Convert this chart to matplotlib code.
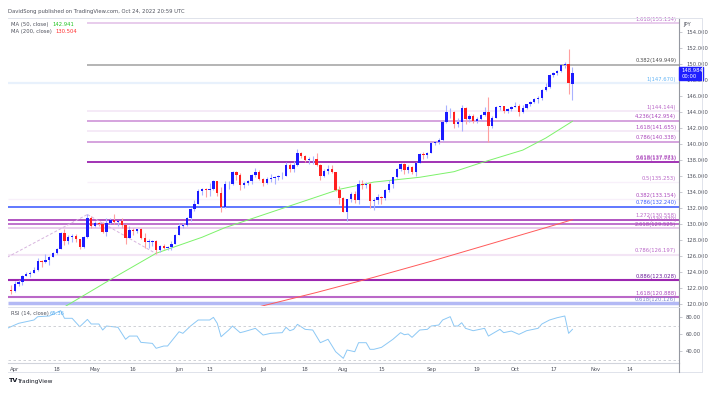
import numpy as np
import matplotlib
matplotlib.use("Agg")
import matplotlib.pyplot as plt
import matplotlib.transforms as mtransforms
from matplotlib.lines import Line2D
from matplotlib.patches import Rectangle


# 1. Daily USD/JPY candles, Mar 31 - Oct 24 2022 (one row per month)
opens = [
    121.85, 121.70, 122.50, 122.80, 123.60, 123.80, 123.95, 124.35, 125.40, 125.35, 125.60, 125.90, 126.40, 126.95, 128.90, 127.90, 128.40, 128.50, 128.15, 127.20, 128.40, 130.80,
    129.75, 130.15, 130.10, 129.10, 130.20, 130.55, 130.30, 130.40, 129.95, 128.35, 129.25, 129.15, 129.40, 128.25, 127.80, 127.85, 127.90, 126.85, 127.30, 127.10, 127.15, 127.60,
    128.70, 129.80, 129.90, 130.85, 131.90, 132.60, 134.20, 134.40, 134.35, 134.40, 135.45, 133.95, 132.20, 135.00, 135.05, 136.60, 136.20, 134.95, 135.20, 135.45, 136.15, 136.60,
    135.70, 135.20, 135.70, 135.85, 135.95, 136.00, 136.10, 137.40, 136.90, 137.40, 138.95, 138.55, 138.10, 138.15, 138.20, 137.40, 136.10, 136.65, 136.95, 136.55, 134.30,
    133.25, 131.60, 133.15, 133.85, 133.00, 135.00, 134.95, 135.10, 132.90, 133.00, 133.45, 133.30, 134.25, 135.10, 135.90, 136.90, 137.50, 136.75, 137.15, 136.60, 137.70, 138.75, 138.70,
    138.95, 140.20, 140.25, 140.55, 142.80, 144.00, 144.10, 142.60, 142.85, 144.55, 143.20, 143.50, 142.95, 143.20, 143.70, 144.10, 142.35, 143.35, 144.70, 144.75, 144.15, 144.45,
    144.70, 144.80, 144.05, 144.60, 145.05, 145.30, 145.70, 145.75, 146.85, 147.20, 148.70, 148.95, 149.20, 149.90, 150.10, 147.50,
]
highs = [
    122.43, 122.98, 123.05, 123.65, 124.05, 124.15, 124.70, 125.75, 125.60, 126.30, 126.00, 126.60, 127.05, 129.05, 129.40, 128.70, 128.85, 128.75, 128.20, 128.60, 131.25, 131.05,
    130.45, 130.35, 130.35, 130.80, 130.85, 131.35, 130.45, 130.80, 130.10, 129.75, 129.50, 129.45, 129.50, 128.95, 128.20, 128.10, 128.00, 127.45, 127.60, 127.35, 127.90, 128.80,
    130.20, 130.20, 130.95, 132.00, 133.00, 134.45, 134.55, 134.60, 135.20, 135.60, 135.45, 134.70, 135.45, 135.45, 136.70, 136.70, 136.40, 135.40, 135.60, 136.35, 137.00, 136.85,
    135.75, 135.95, 136.35, 136.05, 136.15, 136.55, 137.75, 137.65, 137.90, 139.40, 139.10, 138.70, 138.40, 138.50, 138.90, 137.55, 136.90, 137.45, 137.45, 136.60, 134.80,
    133.40, 133.20, 134.05, 134.15, 135.50, 135.55, 135.35, 135.35, 133.25, 133.80, 133.60, 134.40, 135.50, 135.95, 137.00, 137.70, 137.65, 137.40, 137.25, 137.75, 138.95, 139.00, 139.05,
    140.25, 140.40, 140.80, 143.05, 144.99, 144.55, 144.20, 143.25, 144.95, 144.70, 143.75, 143.75, 143.40, 143.85, 144.70, 145.90, 143.50, 144.80, 144.85, 144.80, 144.60, 144.85,
    145.30, 145.00, 144.90, 145.10, 145.45, 145.75, 146.00, 146.95, 147.65, 148.85, 149.10, 149.35, 149.95, 150.30, 151.95, 149.70,
]
lows = [
    121.28, 121.60, 122.25, 122.40, 123.55, 123.45, 123.90, 124.20, 124.70, 125.15, 124.95, 125.90, 126.30, 126.90, 127.45, 127.50, 127.80, 127.85, 126.95, 127.00, 128.30, 129.50,
    129.65, 129.80, 128.95, 128.60, 130.00, 130.10, 129.75, 129.50, 127.50, 128.30, 128.65, 128.90, 128.15, 127.05, 127.05, 127.30, 126.35, 126.60, 126.90, 126.85, 126.85, 127.50,
    128.65, 129.50, 129.75, 130.40, 131.70, 132.60, 133.65, 133.40, 133.60, 134.25, 133.50, 131.50, 132.10, 134.45, 134.90, 135.60, 134.30, 134.50, 134.90, 135.05, 135.90, 135.55,
    134.75, 135.10, 135.35, 135.05, 135.55, 135.65, 136.00, 136.60, 136.50, 137.30, 138.25, 137.75, 137.55, 137.60, 137.25, 135.60, 135.95, 136.35, 136.40, 134.20, 132.50,
    131.55, 130.40, 132.85, 132.70, 132.50, 134.40, 134.60, 132.05, 131.75, 132.55, 132.55, 133.00, 134.05, 134.60, 135.80, 136.70, 136.25, 136.40, 136.30, 136.10, 137.65, 138.20, 138.25,
    138.90, 139.90, 140.05, 140.40, 142.65, 143.35, 142.10, 142.20, 141.65, 142.55, 142.85, 142.65, 142.70, 143.05, 143.55, 140.35, 142.00, 143.30, 144.35, 143.95, 143.90, 144.20,
    144.70, 143.55, 143.95, 144.40, 144.85, 145.20, 145.20, 145.60, 146.65, 147.05, 148.40, 148.70, 149.00, 149.60, 146.25, 145.50,
]
closes = [
    121.70, 122.50, 122.80, 123.60, 123.80, 123.95, 124.35, 125.40, 125.35, 125.60, 125.90, 126.40, 126.95, 128.90, 127.90, 128.40, 128.50, 128.15, 127.20, 128.40, 130.80, 129.75,
    130.15, 130.10, 129.10, 130.20, 130.55, 130.30, 130.40, 129.95, 128.35, 129.25, 129.15, 129.40, 128.25, 127.80, 127.85, 127.90, 126.85, 127.30, 127.10, 127.15, 127.60, 128.70,
    129.80, 129.90, 130.85, 131.90, 132.60, 134.20, 134.40, 134.35, 134.40, 135.45, 133.95, 132.20, 135.00, 135.05, 136.60, 136.20, 134.95, 135.20, 135.45, 136.15, 136.60, 135.70,
    135.20, 135.70, 135.85, 135.95, 136.00, 136.10, 137.40, 136.90, 137.40, 138.95, 138.55, 138.10, 138.15, 138.20, 137.40, 136.10, 136.65, 136.95, 136.55, 134.30, 133.25,
    131.60, 133.15, 133.85, 133.00, 135.00, 134.95, 135.10, 132.90, 133.00, 133.45, 133.30, 134.25, 135.10, 135.90, 136.90, 137.50, 136.75, 137.15, 136.60, 137.70, 138.75, 138.70, 138.95,
    140.20, 140.25, 140.55, 142.80, 144.00, 144.10, 142.60, 142.85, 144.55, 143.20, 143.50, 142.95, 143.20, 143.70, 144.10, 142.35, 143.35, 144.70, 144.75, 144.15, 144.45, 144.70,
    144.80, 144.05, 144.60, 145.05, 145.30, 145.70, 145.75, 146.85, 147.20, 148.70, 148.95, 149.20, 149.90, 150.10, 147.65, 148.98,
]

# 2. Moving averages (bar index, value)
ma50_idx = [12, 14, 26, 38, 50, 56, 66, 76, 86, 95, 107, 116, 123, 134, 140, 147]
ma50_val = [119.2, 119.7, 123.1, 126.4, 128.4, 129.6, 131.2, 132.8, 134.4, 135.3, 135.9, 136.6, 137.7, 139.3, 140.8, 142.9]
ma200_idx = [64, 80, 95, 110, 125, 140, 147]
ma200_val = [119.6, 121.5, 123.4, 125.4, 127.5, 129.6, 130.6]

# 3. RSI(14)
rsi_idx = [-1, 2, 6, 7, 10, 13, 14, 16, 18, 20, 21, 23, 24, 25, 28, 30, 31, 33, 34, 37, 38, 40, 41, 44, 45, 47, 49, 52, 53, 54,
           55, 57, 58, 60, 61, 64, 66, 68, 71, 72, 73, 74, 75, 77, 79, 81, 83, 85, 87, 88, 90, 91, 93, 94, 95, 97, 100, 102, 103, 104,
           105, 107, 109, 110, 112, 113, 115, 116, 117, 118, 119, 121, 124, 125, 128, 129, 131, 133, 135, 138, 139, 141, 143, 145, 146, 147]
rsi_val = [66.7, 72.6, 76.5, 80.4, 81.2, 87.5, 78.5, 78.5, 68.6, 77.2, 71.8, 71.8, 64.7, 69.4, 67.9, 53.8, 57.6, 57.6, 50.2, 49.0,
           43.2, 45.9, 45.9, 62.7, 60.8, 69.4, 76.5, 76.5, 79.6, 72.6, 56.8, 64.7, 69.4, 61.6, 62.7, 66.7, 58.8, 60.8, 61.6, 67.9,
           63.9, 65.5, 71.4, 65.5, 64.7, 49.8, 53.8, 39.2, 31.4, 41.2, 39.2, 49.8, 49.8, 42.0, 42.0, 44.3, 53.8, 61.6, 59.2, 60.0,
           56.1, 64.7, 65.5, 69.4, 70.6, 76.5, 80.4, 69.4, 69.4, 73.3, 66.7, 63.9, 66.7, 57.6, 65.5, 61.6, 63.5, 59.6, 63.9, 66.7,
           71.8, 76.5, 79.2, 81.2, 60.8, 65.5]

# 4. Fibonacci levels drawn on the chart
fib_prices = [155.134, 149.949, 147.670, 144.144, 142.954, 141.655, 140.338, 137.871, 137.783, 135.253,
              133.154, 132.240, 130.558, 130.079, 129.525, 126.197, 123.028, 120.888, 120.126]
fib_labels = ["1.618(155.134)", "0.382(149.949)", "1(147.670)", "1(144.144)", "4.236(142.954)", "1.618(141.655)",
              "0.786(140.338)", "0.618(137.871)", "2.618(137.783)", "0.5(135.253)", "0.382(133.154)", "0.786(132.240)",
              "1.272(130.558)", "1(130.079)", "2.618(129.525)", "0.786(126.197)", "0.886(123.028)", "1.618(120.888)",
              "0.618(120.126)"]
# dashed trend legs of the fib tool (bar index, price)
leg_idx = [[-1, 20], [20, 38]]
leg_val = [[125.9, 131.25], [131.25, 126.35]]

# 5. Time axis
tick_idx = [1, 12, 22, 32, 44, 52, 66, 77, 87, 97, 110, 122, 132, 142, 153, 162]
tick_txt = ["Apr", "18", "May", "16", "Jun", "13", "Jul", "18", "Aug", "15", "Sep", "19", "Oct", "17", "Nov", "14"]

# styles for fib lines
fib_line_col = ["#E1BEE7", "#A0A0A0", "#E8F1FC", "#F5EAF7", "#CE93D8", "#F5EAF7", "#CE93D8", "#AB47BC", "#9C27B0", "#F8F0FA",
                "#F8F0FA", "#536DFE", "#AB47BC", "#BA68C8", "#E1BEE7", "#F3E5F5", "#9C27B0", "#BA68C8", "#B3B9F5"]
fib_line_w = [1.1, 1.1, 1.6, 1.4, 1.2, 1.4, 1.2, 1.1, 1.1, 1.0, 1.0, 1.3, 1.3, 1.3, 1.1, 1.5, 1.5, 1.5, 2.5]
fib_txt_col = ["#BA68C8", "#505050", "#64B5F6", "#BA68C8", "#AB47BC", "#AB47BC", "#AB47BC", "#AB47BC", "#AB47BC", "#BA68C8",
               "#AB47BC", "#3D5AFE", "#BA68C8", "#BA68C8", "#AB47BC", "#BA68C8", "#6A1B9A", "#AB47BC", "#7986CB"]

UP, DOWN = "#1B1BFF", "#FF1F1F"
UP_WICK, DOWN_WICK = "#A9B2FF", "#FFA0A0"
TXT = "#50535E"
FS = 3.8

W, H = 717, 394
fig = plt.figure(figsize=(W / 100, H / 100), dpi=100)
fig.patch.set_facecolor("white")


def box(x0, y0, x1, y1):
    return [x0 / W, 1 - y1 / H, (x1 - x0) / W, (y1 - y0) / H]


ax = fig.add_axes(box(8, 18, 679, 306))
rax = fig.add_axes(box(8, 307, 679, 363), sharex=ax)

o = np.array(opens)
h = np.array(highs)
lo = np.array(lows)
c = np.array(closes)
idx = np.arange(len(c))
up = c >= o
dn = ~up

# candles
ax.vlines(idx[up], lo[up], h[up], color=UP_WICK, lw=0.8, zorder=3)
ax.vlines(idx[dn], lo[dn], h[dn], color=DOWN_WICK, lw=0.8, zorder=3)
ax.bar(idx[up], np.maximum(c - o, 0.08)[up], bottom=o[up], width=0.62, color=UP, lw=0, zorder=4)
ax.bar(idx[dn], np.maximum(o - c, 0.08)[dn], bottom=c[dn], width=0.62, color=DOWN, lw=0, zorder=4)

# moving averages
ax.plot(ma50_idx, ma50_val, color="#7CF26A", lw=0.7, zorder=2)
ax.plot(ma200_idx, ma200_val, color="#FF5A5A", lw=0.7, zorder=2)

# fib levels
xmin, xmax = -0.79, 174.9
blend = mtransforms.blended_transform_factory(ax.transAxes, ax.transData)
for p, lab, lc, lw, tc in zip(fib_prices, fib_labels, fib_line_col, fib_line_w, fib_txt_col):
    start = 20 if p > 135 and p != 147.670 else xmin
    ax.hlines(p, start, xmax, color=lc, lw=lw, zorder=1)
    ax.text(0.996, p + 0.2, lab, transform=blend, ha="right", va="bottom",
            fontsize=FS, color=tc, zorder=5)
for lx, lv in zip(leg_idx, leg_val):
    ax.plot(lx, lv, color="#D7B4DE", lw=0.7, ls=(0, (3, 2)), zorder=1)

ax.set_xlim(xmin, xmax)
ax.set_ylim(119.81, 155.81)
ax.yaxis.tick_right()
ax.set_yticks(np.arange(120, 155, 2))
ax.set_yticklabels([f"{v:.3f}" for v in np.arange(120, 155, 2)])
ax.tick_params(axis="y", length=2, width=0.5, color="#B2B5BE", pad=3, labelsize=FS, labelcolor=TXT)
ax.tick_params(axis="x", length=0, labelbottom=False)
for s in ["top", "left", "bottom"]:
    ax.spines[s].set_visible(False)
ax.spines["right"].set_color("#9598A1")
ax.spines["right"].set_linewidth(0.8)

# legends
ax.text(0.004, 0.985, "MA (50, close)", transform=ax.transAxes, fontsize=FS, color=TXT, va="top")
ax.text(0.066, 0.985, "142.941", transform=ax.transAxes, fontsize=FS, color="#22C422", va="top")
ax.text(0.004, 0.963, "MA (200, close)", transform=ax.transAxes, fontsize=FS, color=TXT, va="top")
ax.text(0.070, 0.963, "130.504", transform=ax.transAxes, fontsize=FS, color="#FF3030", va="top")

# last price tag
ax.add_patch(Rectangle((1.0, 148.98 - 0.9), 0.036, 1.55, transform=blend, color="#1E1EFF",
                       clip_on=False, zorder=6))
ax.text(1.004, 148.98 + 0.25, "148.984", transform=blend, fontsize=FS, color="white",
        va="center", zorder=7, clip_on=False)
ax.text(1.004, 148.98 - 0.5, "00:00", transform=blend, fontsize=FS, color="white",
        va="center", zorder=7, clip_on=False)
ax.text(1.006, 0.985, "JPY", transform=ax.transAxes, fontsize=FS, color=TXT, va="top")

# RSI pane
rax.plot(rsi_idx, rsi_val, color="#8CC8F5", lw=0.7)
rax.axhline(70, color="#C8CAD0", lw=0.6, ls=(0, (3, 3)))
rax.axhline(30, color="#C8CAD0", lw=0.6, ls=(0, (3, 3)))
rax.set_ylim(25.9, 91.8)
rax.yaxis.tick_right()
rax.set_yticks([40, 60, 80])
rax.set_yticklabels(["40.00", "60.00", "80.00"])
rax.tick_params(axis="y", length=2, width=0.5, color="#B2B5BE", pad=3, labelsize=FS, labelcolor=TXT)
rax.set_xticks(tick_idx)
rax.set_xticklabels(tick_txt)
rax.tick_params(axis="x", length=0, pad=3, labelsize=FS, labelcolor=TXT)
for s in ["top", "left"]:
    rax.spines[s].set_visible(False)
rax.spines["right"].set_color("#9598A1")
rax.spines["right"].set_linewidth(0.8)
rax.spines["bottom"].set_color("#D1D4DC")
rax.spines["bottom"].set_linewidth(0.8)
rax.text(0.004, 0.93, "RSI (14, close)", transform=rax.transAxes, fontsize=FS, color=TXT, va="top")
rax.text(0.062, 0.93, "65.36", transform=rax.transAxes, fontsize=FS, color="#5AAEF0", va="top")

# frame, pane separator, header, footer
fr = lambda x0, y0, x1, y1: Line2D([x0 / W, x1 / W], [1 - y0 / H, 1 - y1 / H], color="#E0E3EB", lw=0.7)
fig.add_artist(fr(8, 18, 702, 18))
fig.add_artist(fr(702, 18, 702, 372))
fig.add_artist(fr(8, 372, 702, 372))
fig.add_artist(fr(8, 306.5, 679, 306.5))
fig.add_artist(Line2D([679 / W, 679 / W], [1 - 363 / H, 1 - 372 / H], color="#9598A1", lw=0.8))

fig.text(8 / W, 1 - 12 / H, "DavidSong published on TradingView.com, Oct 24, 2022 20:59 UTC",
         fontsize=FS, color=TXT, va="center")
fig.text(9 / W, 1 - 381 / H, "TV", fontsize=4.6, color="#131722", va="center", weight="bold")
fig.text(17 / W, 1 - 381 / H, "TradingView", fontsize=4.2, color="#131722", va="center")

fig.savefig("out.png", dpi=100, facecolor="white")
